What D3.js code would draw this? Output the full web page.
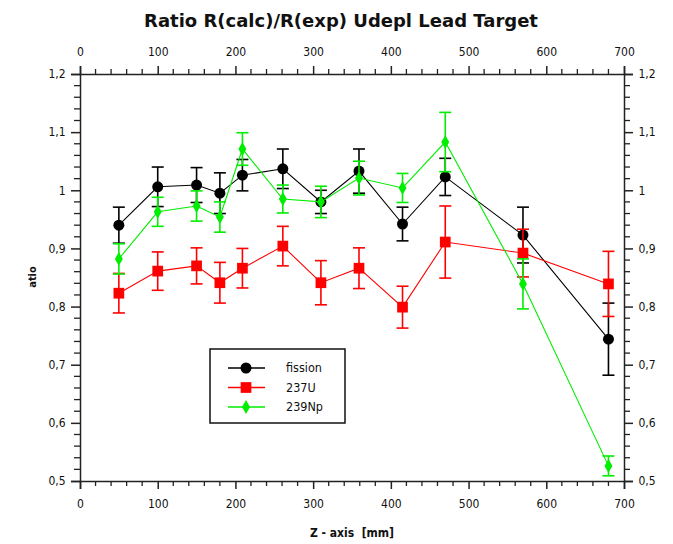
<!DOCTYPE html>
<html>
<head>
<meta charset="utf-8">
<script src="https://cdn.jsdelivr.net/npm/d3@7"></script>
<style>
  html, body { margin: 0; padding: 0; background: #fff; }
  svg { display: block; }
  text { font-family: Tahoma, "DejaVu Sans Condensed", "DejaVu Sans", sans-serif; fill: #111; }
</style>
</head>
<body>
<svg id="chart" width="673" height="544"></svg>
<script>
// Z positions along the target (mm)
const zFission = [50, 100, 150, 180, 209, 261, 310, 359, 415, 470, 570, 680];
const zU237    = [50, 100, 150, 180, 209, 261, 310, 359, 415, 470, 570, 680];
const zNp239   = [50, 100, 150, 180, 209, 261, 310, 359, 415, 470, 570, 680];

// Ratio R(calc)/R(exp) and its uncertainty per series
const fission    = [0.940, 1.006, 1.009, 0.995, 1.026, 1.037, 0.980, 1.033, 0.942, 1.023, 0.923, 0.744];
const fissionErr = [0.031, 0.034, 0.030, 0.035, 0.027, 0.034, 0.020, 0.038, 0.029, 0.032, 0.048, 0.062];
const u237       = [0.823, 0.861, 0.870, 0.841, 0.866, 0.904, 0.841, 0.866, 0.799, 0.911, 0.892, 0.839];
const u237Err    = [0.034, 0.033, 0.031, 0.035, 0.034, 0.034, 0.038, 0.035, 0.036, 0.062, 0.041, 0.056];
const np239      = [0.882, 0.963, 0.973, 0.954, 1.071, 0.985, 0.980, 1.021, 1.004, 1.083, 0.839, 0.526];
const np239Err   = [0.026, 0.025, 0.026, 0.026, 0.028, 0.024, 0.027, 0.029, 0.025, 0.051, 0.043, 0.017];

const seriesNames = ["fission", "237U", "239Np"];
const xTicks = [0, 100, 200, 300, 400, 500, 600, 700];
const yTicks = [0.5, 0.6, 0.7, 0.8, 0.9, 1.0, 1.1, 1.2];

const svg = d3.select("#chart");
const margin = { left: 80, right: 49, top: 74, bottom: 63 };
const W = 673, H = 544;

const x = d3.scaleLinear().domain([0, 700]).range([margin.left, W - margin.right]);
const y = d3.scaleLinear().domain([0.5, 1.2]).range([H - margin.bottom, margin.top]);

const fmtY = v => (Math.abs(v - 1) < 1e-9 ? "1" : d3.format(".1f")(v).replace(".", ","));

// Axes: major ticks labelled, minor ticks every 20 mm / 0.02
function drawAxes() {
  const minorX = d3.range(0, 701, 20);
  const minorY = d3.range(0, 36).map(i => 0.5 + i * 0.02);
  const g = svg.append("g").attr("class", "axes");

  const bottom = d3.axisBottom(x).tickValues(xTicks).tickSize(8).tickFormat(d3.format("d"));
  const top = d3.axisTop(x).tickValues(xTicks).tickSize(8).tickFormat(d3.format("d"));
  const left = d3.axisLeft(y).tickValues(yTicks).tickSize(9).tickFormat(fmtY);
  const right = d3.axisRight(y).tickValues(yTicks).tickSize(9).tickFormat(fmtY);

  const styleAxis = sel => {
    sel.select(".domain").attr("stroke", "#222").attr("stroke-width", 1.5);
    sel.selectAll(".tick line").attr("stroke", "#222").attr("stroke-width", 1.5);
    sel.selectAll(".tick text").attr("font-size", 12).attr("fill", "#1a1a2a");
  };

  g.append("g").attr("transform", `translate(0,${y(0.5)})`).call(bottom).call(styleAxis)
    .call(s => s.selectAll(".tick text").attr("dy", "1.3em"));
  g.append("g").attr("transform", `translate(0,${y(1.2)})`).call(top).call(styleAxis)
    .call(s => s.selectAll(".tick text").attr("dy", "-0.6em"));
  g.append("g").attr("transform", `translate(${x(0)},0)`).call(left).call(styleAxis)
    .call(s => s.selectAll(".tick text").attr("dx", "-0.2em"));
  g.append("g").attr("transform", `translate(${x(700)},0)`).call(right).call(styleAxis)
    .call(s => s.selectAll(".tick text").attr("dx", "0.2em"));

  const mx = minorX.filter(v => v % 100 !== 0);
  const my = minorY.filter(v => Math.abs(v * 10 - Math.round(v * 10)) > 1e-6);
  const minor = g.append("g").attr("stroke", "#222").attr("stroke-width", 1.3);
  mx.forEach(v => {
    minor.append("line").attr("x1", x(v)).attr("x2", x(v)).attr("y1", y(0.5)).attr("y2", y(0.5) + 5);
    minor.append("line").attr("x1", x(v)).attr("x2", x(v)).attr("y1", y(1.2)).attr("y2", y(1.2) - 5);
  });
  my.forEach(v => {
    minor.append("line").attr("x1", x(0)).attr("x2", x(0) - 6).attr("y1", y(v)).attr("y2", y(v));
    minor.append("line").attr("x1", x(700)).attr("x2", x(700) + 6).attr("y1", y(v)).attr("y2", y(v));
  });
}
drawAxes();

const series = [
  { name: seriesNames[0], z: zFission, v: fission, e: fissionErr, color: "#000000", marker: d3.symbolCircle, size: 95 },
  { name: seriesNames[1], z: zU237, v: u237, e: u237Err, color: "#ff0000", marker: d3.symbolSquare, size: 115 },
  { name: seriesNames[2], z: zNp239, v: np239, e: np239Err, color: "#00ee00", marker: d3.symbolDiamond, size: 55 }
];

const line = d3.line().x(d => x(d.z)).y(d => y(d.v));

series.forEach(s => {
  const pts = s.z.map((z, i) => ({ z, v: s.v[i], e: s.e[i] }));
  const g = svg.append("g");
  g.append("path").datum(pts).attr("d", line).attr("fill", "none")
    .attr("stroke", s.color).attr("stroke-width", 1.1);
  const eb = g.append("g").attr("stroke", s.color).attr("stroke-width", 1.6);
  pts.forEach(p => {
    eb.append("line").attr("x1", x(p.z)).attr("x2", x(p.z)).attr("y1", y(p.v - p.e)).attr("y2", y(p.v + p.e));
    [p.v - p.e, p.v + p.e].forEach(c =>
      eb.append("line").attr("x1", x(p.z) - 6).attr("x2", x(p.z) + 6).attr("y1", y(c)).attr("y2", y(c)));
  });
  g.selectAll("path.mk").data(pts).join("path").attr("class", "mk")
    .attr("d", d3.symbol().type(s.marker).size(s.size))
    .attr("transform", d => `translate(${x(d.z)},${y(d.v)})`)
    .attr("fill", s.color);
});

// Legend
const lg = svg.append("g");
lg.append("rect").attr("x", 210).attr("y", 349).attr("width", 135).attr("height", 74)
  .attr("fill", "#fff").attr("stroke", "#111").attr("stroke-width", 1.5);
series.forEach((s, i) => {
  const yy = 368 + i * 19.5;
  lg.append("line").attr("x1", 228).attr("x2", 265).attr("y1", yy).attr("y2", yy)
    .attr("stroke", s.color).attr("stroke-width", 1.3);
  lg.append("path").attr("d", d3.symbol().type(s.marker).size(s.size)())
    .attr("transform", `translate(246,${yy})`).attr("fill", s.color);
  lg.append("text").attr("x", 286).attr("y", yy).attr("dy", "0.35em")
    .attr("font-size", 12.5).text(s.name);
});

// Titles
svg.append("text").attr("x", 341).attr("y", 27).attr("text-anchor", "middle")
  .style("font-family", "'DejaVu Sans', sans-serif")
  .attr("font-size", 18).attr("font-weight", "bold").text("Ratio R(calc)/R(exp) Udepl Lead Target");
svg.append("text").attr("x", 352).attr("y", 537).attr("text-anchor", "middle")
  .attr("font-size", 12).attr("font-weight", "bold").attr("xml:space", "preserve").text("Z - axis  [mm]");
svg.append("text").attr("transform", "translate(36,277) rotate(-90)").attr("text-anchor", "middle")
  .attr("font-size", 11).attr("font-weight", "bold").text("atio");
</script>
</body>
</html>
